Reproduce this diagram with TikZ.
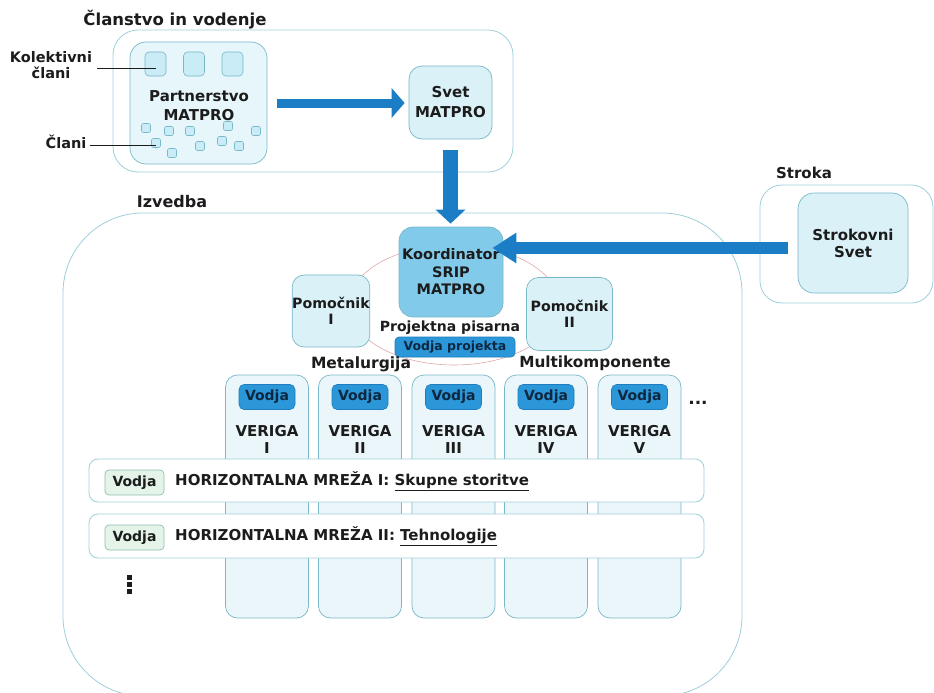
\documentclass[tikz,border=0pt]{standalone}
\usepackage{fontspec}
\setmainfont{DejaVu Sans}
\usetikzlibrary{arrows.meta,shapes.geometric}
\definecolor{bdr}{HTML}{78B8C8}
\definecolor{obdr}{HTML}{9ED0DB}
\definecolor{lcyan}{HTML}{DAF1F8}
\definecolor{pcyan}{HTML}{E7F6FA}
\definecolor{ccyan}{HTML}{EAF6FA}
\definecolor{sqcyan}{HTML}{C9ECF6}
\definecolor{kcol}{HTML}{82CAEA}
\definecolor{vcol}{HTML}{2B97D8}
\definecolor{vbdr}{HTML}{1F7DBE}
\definecolor{acol}{HTML}{1B7DC6}
\definecolor{txt}{HTML}{1C1C1C}
\definecolor{navy}{HTML}{0E2740}
\definecolor{gcol}{HTML}{E4F4E9}
\definecolor{gbdr}{HTML}{8DBFB2}
\definecolor{ell}{HTML}{E2A8A8}
\newcommand\fs[2]{\fontsize{#1}{#2}\selectfont\bfseries}
\begin{document}
\begin{tikzpicture}[x=1pt,y=-1pt,
  box/.style={draw=bdr, line width=0.7pt, fill=lcyan, rounded corners=12pt, inner sep=0pt, align=center, text=txt, font=\fs{15}{18}},
  outerbox/.style={draw=obdr, line width=0.8pt, fill=white, inner sep=0pt},
  lbl/.style={inner sep=0pt, align=center, text=txt, font=\fs{15}{18}},
  vodjabox/.style={draw=vbdr, line width=0.6pt, fill=vcol, rounded corners=5pt, minimum width=56pt, minimum height=25pt, inner sep=0pt, text=navy, font=\fs{14}{16}},
  gvodja/.style={draw=gbdr, line width=0.7pt, fill=gcol, rounded corners=4pt, minimum width=59pt, minimum height=25pt, inner sep=0pt, text=txt, font=\fs{14}{16}},
  msq/.style={draw=bdr, line width=0.6pt, fill=sqcyan, rounded corners=2pt, minimum width=9pt, minimum height=9pt, inner sep=0pt},
  bigsq/.style={draw=bdr, line width=0.6pt, fill=sqcyan, rounded corners=4pt, minimum width=21pt, minimum height=24pt, inner sep=0pt},
  col/.style={draw=bdr, line width=0.7pt, fill=ccyan, rounded corners=12pt, minimum width=83pt, minimum height=243pt, inner sep=0pt},
  hm/.style={draw=obdr, line width=0.8pt, fill=white, rounded corners=9pt, minimum width=615pt, inner sep=0pt},
  pointer/.style={draw=txt, line width=0.9pt},
]
\useasboundingbox (0,0) rectangle (934,693);
\clip (0,0) rectangle (934,693);
\fill[white] (0,0) rectangle (934,693);

% ---------- Clanstvo in vodenje ----------
\node[outerbox, rounded corners=25pt, minimum width=400pt, minimum height=142pt] (clan) at (313,101) {};
\node[lbl, font=\fs{16.5}{18}, anchor=center] (clantitle) at (175,20) {Članstvo in vodenje};
\node[box, fill=pcyan, rounded corners=16pt, minimum width=137pt, minimum height=122pt] (part) at (198.5,103) {};
\node[lbl] (partlbl) at (199,106) {Partnerstvo\\[1pt]MATPRO};
\node[bigsq] (sq1) at (155.5,64) {};
\node[bigsq] (sq2) at (194,64) {};
\node[bigsq] (sq3) at (232.5,64) {};
\node[msq] (m1) at (146,128) {};
\node[msq] (m2) at (169,131) {};
\node[msq] (m3) at (190,131) {};
\node[msq] (m4) at (228,126) {};
\node[msq] (m5) at (256,131) {};
\node[msq] (m6) at (156,143) {};
\node[msq] (m7) at (172,153) {};
\node[msq] (m8) at (200,146) {};
\node[msq] (m9) at (222,141) {};
\node[msq] (m10) at (239,146) {};
\node[lbl, font=\fs{14.5}{16}] (kol) at (51,65) {Kolektivni\\člani};
\node[lbl, font=\fs{14.5}{16}] (clani) at (66,142) {Člani};
\draw[pointer] ([xshift=5pt,yshift=-3pt]kol.east) -- ([yshift=-3pt]kol.east -| sq1.center);
\draw[pointer] ([xshift=3pt,yshift=-3pt]clani.east) -- ([yshift=-3pt]clani.east -| m6.center);
\node[box, rounded corners=13pt, minimum width=83pt, minimum height=73pt, font=\fs{15}{20}] (svet) at (450.5,102.5) {Svet\\MATPRO};

% ---------- Stroka ----------
\node[outerbox, rounded corners=22pt, minimum width=173pt, minimum height=118pt] (stroka) at (846.5,244) {};
\node[lbl] (strokalbl) at (804,173) {Stroka};
\node[box, rounded corners=16pt, minimum width=110pt, minimum height=100pt, font=\fs{15}{17}] (strok) at (853,243) {Strokovni\\Svet};

% ---------- Izvedba ----------
\node[outerbox, rounded corners=80pt, minimum width=679pt, minimum height=483pt] (izv) at (402.5,454.5) {};
\node[lbl, font=\fs{16}{18}] (izvlbl) at (172,202) {Izvedba};

\node[draw=ell, line width=0.6pt, ellipse, minimum width=210pt, minimum height=120pt, inner sep=0pt] (ring) at (454,305) {};

\node[box, fill=kcol, rounded corners=14pt, minimum width=104pt, minimum height=90pt, font=\fs{14.5}{17.5}] (koord) at (451,272) {Koordinator\\SRIP\\MATPRO};
\node[box, minimum width=77pt, minimum height=72pt, font=\fs{14.2}{16}] (pom1) at (331,311) {Pomočnik\\I};
\node[box, minimum width=86pt, minimum height=73pt, font=\fs{14.2}{16}] (pom2) at (569.5,314) {Pomočnik\\II};
\node[lbl, font=\fs{14}{16}] (pp) at (450,328) {Projektna pisarna};
\node[vodjabox, minimum width=120pt, minimum height=20pt, rounded corners=4pt, font=\fs{12.5}{14}] (vp) at (455,347) {Vodja projekta};

\node[lbl, font=\fs{15.5}{18}] (metal) at (361,364) {Metalurgija};
\node[lbl, font=\fs{15.3}{18}] (multi) at (595,363) {Multikomponente};

% chains
\foreach \i/\x/\r in {1/267/I,2/360/II,3/453.5/III,4/546/IV,5/639.5/V}{
  \node[col] (c\i) at (\x,496.5) {};
  \node[vodjabox] (cv\i) at (\x,397) {Vodja};
  \node[lbl, font=\fs{15}{17}] (ct\i) at (\x,439) {VERIGA\\\r};
}
\node[lbl, font=\fs{17}{17}] (moredots) at (698,403) {...};

% horizontal networks
\node[hm, minimum height=43pt] (hm1) at (396.5,480.5) {};
\node[hm, minimum height=44pt] (hm2) at (396.5,536) {};
\node[gvodja] (hv1) at (134.5,482.5) {Vodja};
\node[gvodja] (hv2) at (134.5,537.5) {Vodja};
\node[lbl, anchor=west] (ht1) at (175,481) {HORIZONTALNA MREŽA I: \underline{Skupne storitve}};
\node[lbl, anchor=west] (ht2) at (175,536) {HORIZONTALNA MREŽA II: \underline{Tehnologije}};
\foreach \yy in {575,582,589}{\fill[txt] (127,\yy) rectangle +(4.5,4.5);}

% ---------- arrows ----------
\draw[acol, line width=9pt, shorten <=10pt, shorten >=4pt, -{Triangle[length=13pt,width=29pt]}] (part.east) -- (part.east -| svet.west);
\draw[acol, line width=15pt, shorten <=11pt, shorten >=3pt, -{Triangle[length=14pt,width=29pt]}] (svet.south) -- (svet.south |- koord.north);
\draw[acol, line width=12pt, shorten <=10pt, shorten >=-11pt, -{Triangle[length=24pt,width=29pt]}] ([yshift=-5pt]strok.west) -- ([yshift=-5pt]strok.west -| koord.east);
\end{tikzpicture}
\end{document}
